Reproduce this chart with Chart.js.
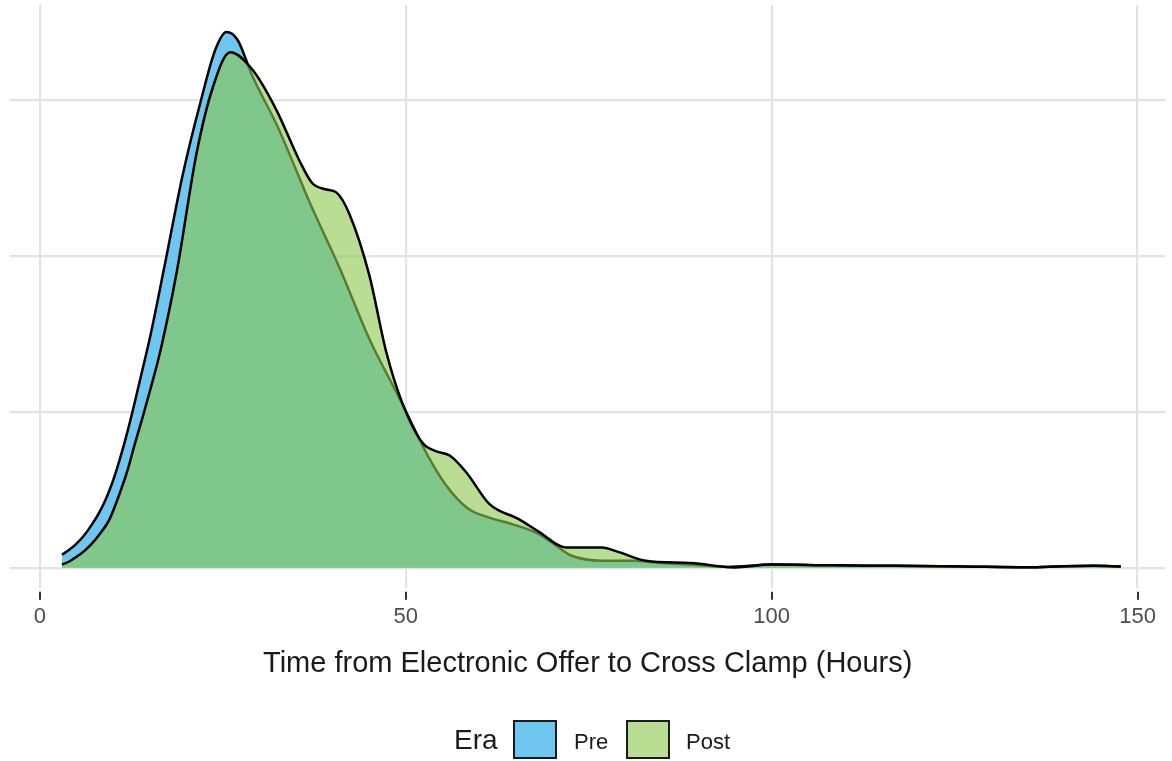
<!DOCTYPE html>
<html>
<head>
<meta charset="utf-8">
<script src="https://cdn.jsdelivr.net/npm/chart.js@4"></script>
<style>
  html, body { margin: 0; padding: 0; background: #ffffff; }
  #wrap { position: relative; width: 1172px; height: 761px; }
  #legend { position: absolute; left: 0; top: 0; width: 1172px; height: 761px; pointer-events: none;
            font-family: "Liberation Sans", Arial, Helvetica, sans-serif; color: #1a1a1a; }
  .lg { position: absolute; white-space: nowrap; line-height: 1; }
  .box { position: absolute; border: 2px solid #1a1a1a; box-sizing: border-box; }
</style>
</head>
<body>
<div id="wrap">
  <canvas id="c" width="1172" height="761"></canvas>
  <div id="legend">
    <span class="lg" id="lgTitle" style="left:454px; top:726px; font-size:28px;">Era</span>
    <div class="box" id="boxPre" style="left:513px; top:720px; width:44px; height:39px;"></div>
    <span class="lg" id="lgPre" style="left:574px; top:731px; font-size:22px;">Pre</span>
    <div class="box" id="boxPost" style="left:626px; top:720px; width:44px; height:39px;"></div>
    <span class="lg" id="lgPost" style="left:686px; top:731px; font-size:22px;">Post</span>
  </div>
</div>
<script>
// ---- Data ----
const seriesNames = ["Pre", "Post"];
const legendTitle = "Era";
const xAxisTitle = "Time from Electronic Offer to Cross Clamp (Hours)";
const xTickValues = [0, 50, 100, 150];
const yGridValues = [0, 0.01, 0.02, 0.03];

const preHours = [3, 4, 5, 6, 7, 8, 9, 10, 11, 12, 13, 14, 15, 17, 19.5, 22, 24, 25.5, 27, 29, 32.5, 37, 41, 45, 49, 53, 55.5, 58.5, 61.5, 64.5, 68, 70, 72.5, 77, 81, 85, 89, 94, 100, 108, 117, 126, 135, 140, 144, 147.7];
const preDensity = [0.00084, 0.00115, 0.00155, 0.00205, 0.0027, 0.00345, 0.0044, 0.0056, 0.0071, 0.0088, 0.0107, 0.0127, 0.0147, 0.0193, 0.0252, 0.0300, 0.0333, 0.0344, 0.0339, 0.0316, 0.0283, 0.0233, 0.0192, 0.0147, 0.0110, 0.0072, 0.0053, 0.0038, 0.0032, 0.0028, 0.0022, 0.0016, 0.0008, 0.00045, 0.00045, 0.0003, 0.0002, 0.00005, 0.0002, 0.00015, 0.00012, 0.00008, 0.00003, 0.0001, 0.00012, 0.00007];

const postHours = [3, 4, 5, 6, 7, 8, 9.5, 11, 12, 13, 14, 15, 16.5, 18.7, 21.4, 23.6, 26, 29, 32.3, 35.5, 37.2, 39, 40.5, 42.3, 45, 47.3, 49.5, 52.3, 54, 56, 58.3, 61.4, 65.5, 68.2, 71.9, 74.5, 76.8, 79.1, 82.8, 89, 95, 100, 108, 117, 126, 135, 140, 144, 147.7];
const postDensity = [0.0002, 0.0004, 0.0007, 0.00105, 0.0015, 0.00205, 0.0031, 0.0049, 0.0063, 0.0080, 0.0096, 0.0113, 0.0140, 0.0190, 0.0266, 0.0308, 0.0331, 0.0320, 0.0294, 0.0261, 0.0247, 0.0243, 0.0241, 0.0227, 0.0188, 0.0139, 0.0106, 0.0080, 0.0075, 0.0072, 0.0061, 0.0041, 0.0031, 0.0023, 0.0013, 0.0013, 0.0013, 0.0010, 0.00045, 0.0003, 0.00002, 0.0002, 0.00015, 0.00012, 0.00008, 0.00003, 0.0001, 0.00012, 0.00007];

// ---- Styles ----
const preFill = "rgba(86, 188, 235, 0.85)";
const postFill = "rgba(140, 200, 80, 0.62)";
const FONT = "'Liberation Sans', Arial, Helvetica, sans-serif";

document.getElementById('boxPre').style.background = preFill;
document.getElementById('boxPost').style.background = postFill;
document.getElementById('lgTitle').textContent = legendTitle;
document.getElementById('lgPre').textContent = seriesNames[0];
document.getElementById('lgPost').textContent = seriesNames[1];

const toPoints = (xs, ys) => xs.map((x, i) => ({ x: x, y: ys[i] }));

const tickMarks = {
  id: 'tickMarks',
  afterDraw(chart) {
    const ctx = chart.ctx, xs = chart.scales.x, area = chart.chartArea;
    ctx.save();
    ctx.strokeStyle = '#333333';
    ctx.lineWidth = 2;
    xTickValues.forEach(v => {
      const px = Math.round(xs.getPixelForValue(v));
      ctx.beginPath();
      ctx.moveTo(px, area.bottom + 4);
      ctx.lineTo(px, area.bottom + 12);
      ctx.stroke();
    });
    ctx.restore();
  }
};

new Chart(document.getElementById('c'), {
  type: 'line',
  data: {
    datasets: [
      {
        label: seriesNames[1],
        data: toPoints(postHours, postDensity),
        backgroundColor: postFill,
        borderColor: '#000000',
        borderWidth: 2.5,
        fill: 'origin',
        pointRadius: 0,
        cubicInterpolationMode: 'monotone',
        order: 0
      },
      {
        label: seriesNames[0],
        data: toPoints(preHours, preDensity),
        backgroundColor: preFill,
        borderColor: '#000000',
        borderWidth: 2.5,
        fill: 'origin',
        pointRadius: 0,
        cubicInterpolationMode: 'monotone',
        order: 1
      }
    ]
  },
  options: {
    responsive: false,
    animation: false,
    layout: { padding: { left: 10, right: 2, top: 5, bottom: 80 } },
    plugins: { legend: { display: false }, tooltip: { enabled: false } },
    scales: {
      x: {
        type: 'linear',
        min: -4.09,
        max: 153.8,
        afterBuildTicks: s => { s.ticks = xTickValues.map(v => ({ value: v })); },
        grid: { color: '#e3e3e3', lineWidth: 2.2, drawTicks: false },
        border: { display: false },
        ticks: { color: '#4d4d4d', font: { family: FONT, size: 22 }, padding: 16, maxRotation: 0,
                 callback: v => String(v) },
        title: { display: true, text: xAxisTitle, color: '#1a1a1a',
                 font: { family: FONT, size: 29 }, padding: { top: 0, bottom: 0 } }
      },
      y: {
        type: 'linear',
        min: -0.00129,
        max: 0.03613,
        afterBuildTicks: s => { s.ticks = yGridValues.map(v => ({ value: v })); },
        grid: { color: '#e3e3e3', lineWidth: 2.2, drawTicks: false },
        border: { display: false },
        ticks: { display: false }
      }
    }
  },
  plugins: [tickMarks]
});
</script>
</body>
</html>
